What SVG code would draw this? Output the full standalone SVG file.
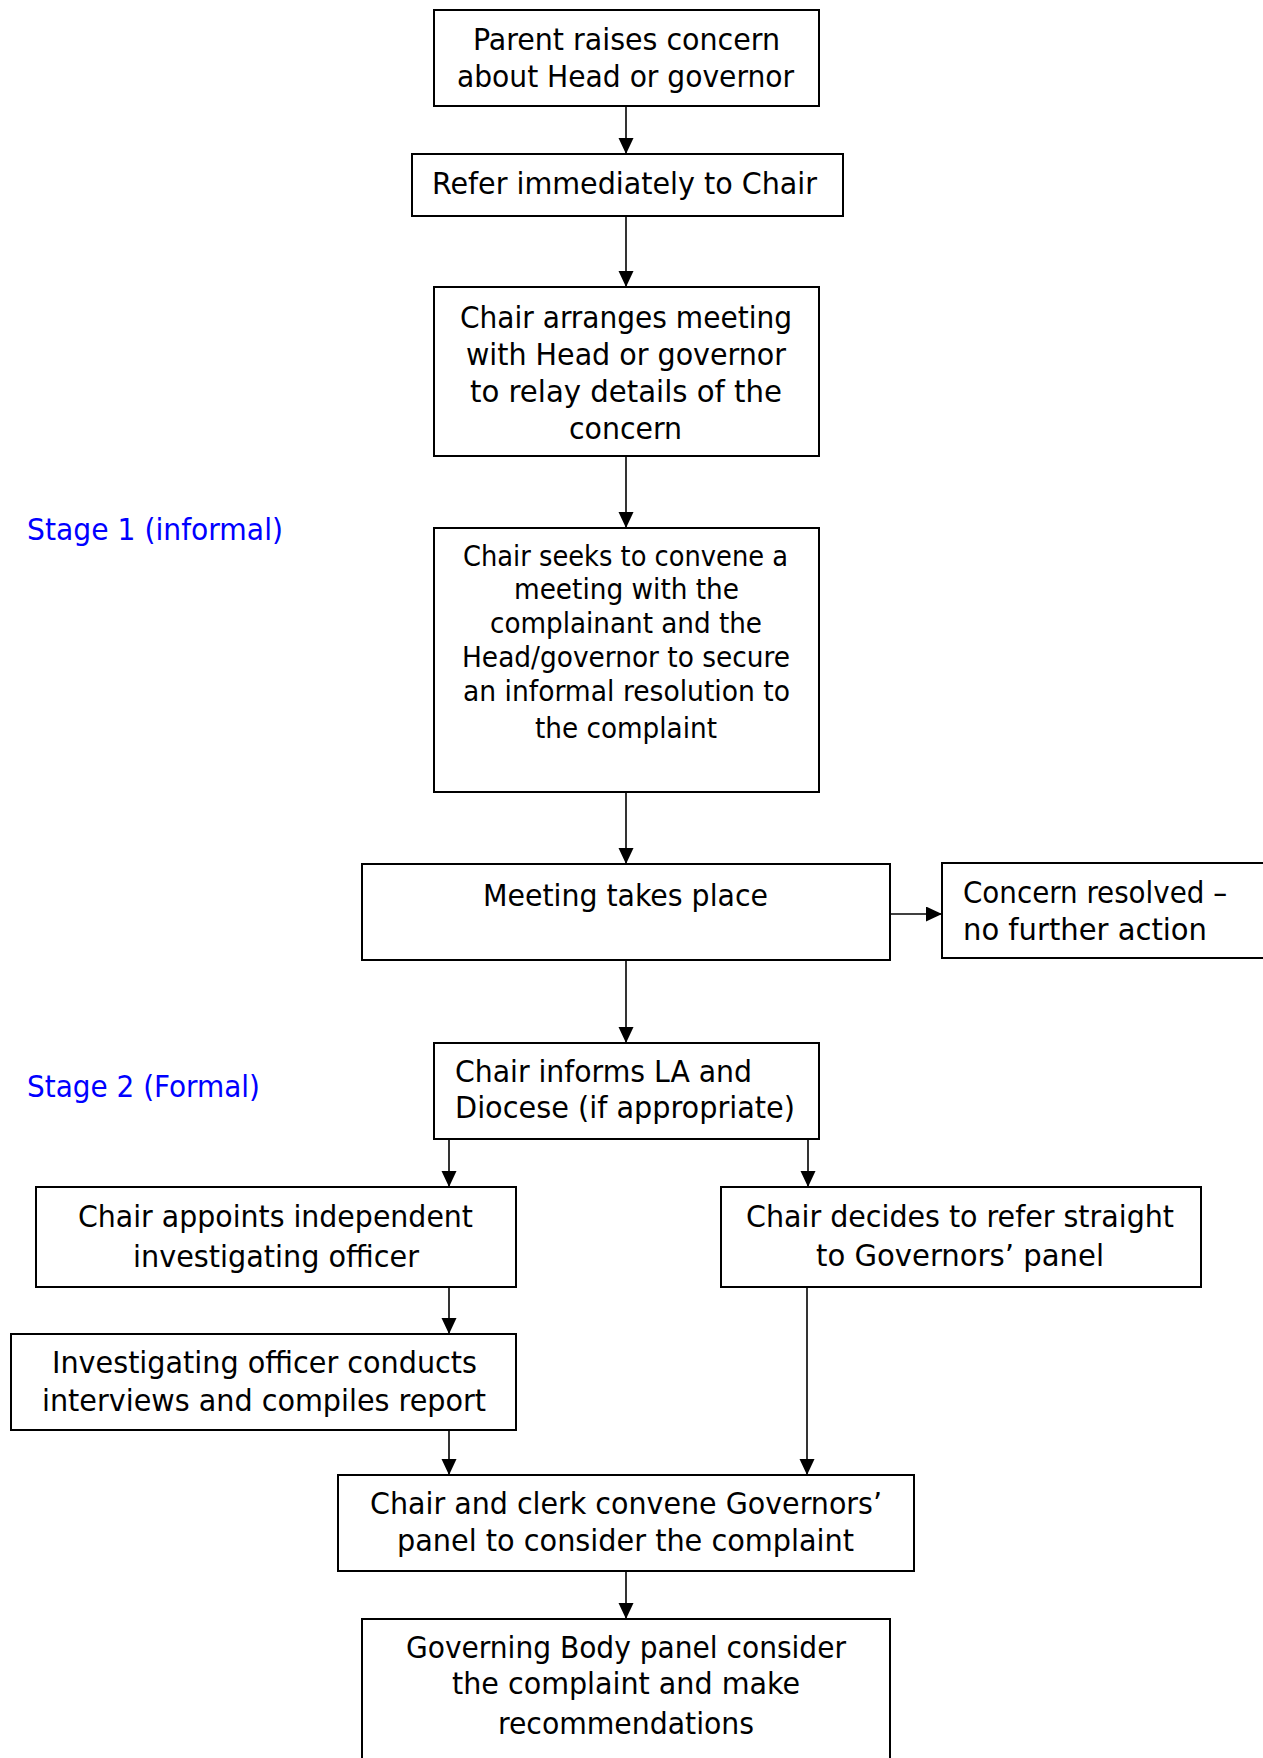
<svg xmlns="http://www.w3.org/2000/svg" width="1263" height="1758" viewBox="0 0 1263 1758">
<style>
.box{fill:#fff;stroke:#000;stroke-width:2}
.t{font-family:"DejaVu Sans Condensed","DejaVu Sans",sans-serif;font-stretch:condensed;font-size:30px;fill:#000}
.s{font-size:28px}
.stage{font-family:"DejaVu Sans Condensed","DejaVu Sans",sans-serif;font-stretch:condensed;font-size:30px;fill:#0000ff}
.c{stroke:#000;stroke-width:1.6;fill:none;marker-end:url(#ah)}
</style>
<defs>
<marker id="ah" markerUnits="userSpaceOnUse" markerWidth="17" markerHeight="16" refX="16" refY="7.5" orient="auto">
<path d="M0,0 L16,7.5 L0,15 z" fill="#000"/>
</marker>
</defs>
<rect width="1263" height="1758" fill="#fff"/>

<g id="connectors">
<line class="c" x1="626" y1="106" x2="626" y2="154"/>
<line class="c" x1="626" y1="216" x2="626" y2="287"/>
<line class="c" x1="626" y1="456" x2="626" y2="528"/>
<line class="c" x1="626" y1="792" x2="626" y2="864"/>
<line class="c" x1="890" y1="914" x2="942" y2="914"/>
<line class="c" x1="626" y1="960" x2="626" y2="1043"/>
<line class="c" x1="449" y1="1139" x2="449" y2="1187"/>
<line class="c" x1="808" y1="1139" x2="808" y2="1187"/>
<line class="c" x1="449" y1="1287" x2="449" y2="1334"/>
<line class="c" x1="449" y1="1430" x2="449" y2="1475"/>
<line class="c" x1="807" y1="1287" x2="807" y2="1475"/>
<line class="c" x1="626" y1="1571" x2="626" y2="1619"/>
</g>

<g id="stage1"><text class="stage" x="27" y="540" textLength="256" lengthAdjust="spacingAndGlyphs">Stage 1 (informal)</text></g>
<g id="stage2"><text class="stage" x="27" y="1097" textLength="233" lengthAdjust="spacingAndGlyphs">Stage 2 (Formal)</text></g>

<g id="n1">
<rect class="box" x="434" y="10" width="385" height="96"/>
<text class="t" x="473" y="50" textLength="307" lengthAdjust="spacingAndGlyphs">Parent raises concern</text>
<text class="t" x="457" y="87" textLength="337" lengthAdjust="spacingAndGlyphs">about Head or governor</text>
</g>
<g id="n2">
<rect class="box" x="412" y="154" width="431" height="62"/>
<text class="t" x="432" y="194" textLength="385" lengthAdjust="spacingAndGlyphs">Refer immediately to Chair</text>
</g>
<g id="n3">
<rect class="box" x="434" y="287" width="385" height="169"/>
<text class="t" x="460" y="328" textLength="332" lengthAdjust="spacingAndGlyphs">Chair arranges meeting</text>
<text class="t" x="466" y="365" textLength="320" lengthAdjust="spacingAndGlyphs">with Head or governor</text>
<text class="t" x="470" y="402" textLength="312" lengthAdjust="spacingAndGlyphs">to relay details of the</text>
<text class="t" x="569" y="439" textLength="113" lengthAdjust="spacingAndGlyphs">concern</text>
</g>
<g id="n4">
<rect class="box" x="434" y="528" width="385" height="264"/>
<text class="t s" x="463" y="566" textLength="325" lengthAdjust="spacingAndGlyphs">Chair seeks to convene a</text>
<text class="t s" x="514" y="599" textLength="225" lengthAdjust="spacingAndGlyphs">meeting with the</text>
<text class="t s" x="490" y="633" textLength="272" lengthAdjust="spacingAndGlyphs">complainant and the</text>
<text class="t s" x="462" y="667" textLength="328" lengthAdjust="spacingAndGlyphs">Head/governor to secure</text>
<text class="t s" x="463" y="701" textLength="327" lengthAdjust="spacingAndGlyphs">an informal resolution to</text>
<text class="t s" x="535" y="738" textLength="182" lengthAdjust="spacingAndGlyphs">the complaint</text>
</g>
<g id="n5">
<rect class="box" x="362" y="864" width="528" height="96"/>
<text class="t" x="483" y="906" textLength="285" lengthAdjust="spacingAndGlyphs">Meeting takes place</text>
</g>
<g id="n6">
<rect class="box" x="942" y="863" width="330" height="95"/>
<text class="t" x="963" y="903" textLength="264" lengthAdjust="spacingAndGlyphs">Concern resolved –</text>
<text class="t" x="963" y="940" textLength="244" lengthAdjust="spacingAndGlyphs">no further action</text>
</g>
<g id="n7">
<rect class="box" x="434" y="1043" width="385" height="96"/>
<text class="t" x="455" y="1082" textLength="297" lengthAdjust="spacingAndGlyphs">Chair informs LA and</text>
<text class="t" x="455" y="1118" textLength="340" lengthAdjust="spacingAndGlyphs">Diocese (if appropriate)</text>
</g>
<g id="n8">
<rect class="box" x="36" y="1187" width="480" height="100"/>
<text class="t" x="78" y="1227" textLength="395" lengthAdjust="spacingAndGlyphs">Chair appoints independent</text>
<text class="t" x="133" y="1267" textLength="286" lengthAdjust="spacingAndGlyphs">investigating officer</text>
</g>
<g id="n9">
<rect class="box" x="11" y="1334" width="505" height="96"/>
<text class="t" x="52" y="1373" textLength="425" lengthAdjust="spacingAndGlyphs">Investigating officer conducts</text>
<text class="t" x="42" y="1411" textLength="444" lengthAdjust="spacingAndGlyphs">interviews and compiles report</text>
</g>
<g id="n10">
<rect class="box" x="721" y="1187" width="480" height="100"/>
<text class="t" x="746" y="1227" textLength="428" lengthAdjust="spacingAndGlyphs">Chair decides to refer straight</text>
<text class="t" x="816" y="1266" textLength="288" lengthAdjust="spacingAndGlyphs">to Governors’ panel</text>
</g>
<g id="n11">
<rect class="box" x="338" y="1475" width="576" height="96"/>
<text class="t" x="370" y="1514" textLength="512" lengthAdjust="spacingAndGlyphs">Chair and clerk convene Governors’</text>
<text class="t" x="397" y="1551" textLength="457" lengthAdjust="spacingAndGlyphs">panel to consider the complaint</text>
</g>
<g id="n12">
<rect class="box" x="362" y="1619" width="528" height="160"/>
<text class="t" x="406" y="1658" textLength="440" lengthAdjust="spacingAndGlyphs">Governing Body panel consider</text>
<text class="t" x="452" y="1694" textLength="348" lengthAdjust="spacingAndGlyphs">the complaint and make</text>
<text class="t" x="498" y="1734" textLength="256" lengthAdjust="spacingAndGlyphs">recommendations</text>
</g>
</svg>
